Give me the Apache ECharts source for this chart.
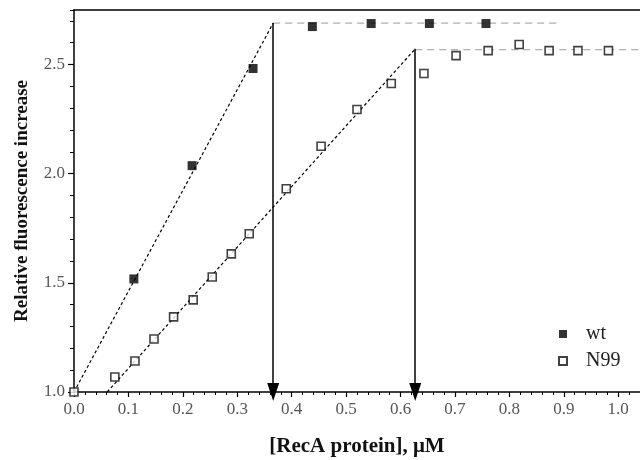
<!DOCTYPE html>
<html>
<head>
<meta charset="utf-8">
<script src="https://cdn.jsdelivr.net/npm/echarts@6/dist/echarts.min.js"></script>
<style>
html, body { margin: 0; padding: 0; background: #fff; }
#main { width: 640px; height: 460px; }
</style>
</head>
<body>
<div id="main"></div>
<script>
// measured points
var wtX = [0.110, 0.217, 0.329, 0.438, 0.546, 0.653, 0.757];
var wtY = [1.518, 2.037, 2.482, 2.674, 2.688, 2.688, 2.688];
var n99X = [0.000, 0.075, 0.112, 0.147, 0.183, 0.219, 0.254, 0.289, 0.322, 0.390,
	0.454, 0.520, 0.583, 0.643, 0.702, 0.761, 0.818, 0.873, 0.926, 0.982];
var n99Y = [1.000, 1.069, 1.142, 1.243, 1.344, 1.422, 1.527, 1.633, 1.725, 1.931,
	2.126, 2.294, 2.413, 2.459, 2.541, 2.564, 2.592, 2.564, 2.564, 2.564];

// fitted lines (start / end)
var wtFitX = [0.0, 0.366];
var wtFitY = [1.0, 2.69];
var wtPlateauX = [0.366, 0.886];
var wtPlateauY = [2.69, 2.69];
var n99FitX = [0.061, 0.627];
var n99FitY = [1.0, 2.572];
var n99PlateauX = [0.627, 1.04];
var n99PlateauY = [2.568, 2.568];

// equivalence points (arrows)
var arrowX = [0.366, 0.627];
var arrowTop = [2.69, 2.572];

var xMin = 0, xMax = 1.04;
var yMin = 1.0, yMax = 2.75;

function pairs(xs, ys) {
	var out = [];
	xs.forEach(function(v, i) {
		out.push([v, ys[i]]);
	});
	return out;
}

var serif = '"Liberation Serif", "DejaVu Serif", serif';
var myChart = echarts.init(document.getElementById('main'));

var fitStyle = { color: '#000', width: 1.2, type: [3, 2.5] };
var plateauStyle = { color: '#9a9a9a', width: 1, type: [7, 5] };

var option = {
	backgroundColor: '#fff',
	animation: false,
	grid: { left: 74, top: 10, right: 0, bottom: 68, outerBoundsMode: 'none', containLabel: false },
	legend: {
		orient: 'vertical',
		left: 553,
		top: 319,
		icon: 'rect',
		itemWidth: 8,
		itemHeight: 8,
		itemGap: 7,
		textStyle: { fontFamily: serif, fontSize: 20, color: '#222', padding: [0, 0, 0, 14] },
		data: ['wt', 'N99']
	},
	xAxis: [{
		// major ticks + labels
		type: 'value', min: xMin, max: xMax, interval: 0.1, position: 'bottom',
		name: '[RecA protein], \u03bcM', nameLocation: 'middle', nameGap: 44,
		nameTextStyle: { fontFamily: serif, fontSize: 21, fontWeight: 'bold', color: '#111' },
		axisLine: { lineStyle: { color: '#000', width: 1.5 } },
		axisTick: { inside: false, length: 5, lineStyle: { color: '#000', width: 1.2 } },
		axisLabel: {
			fontFamily: serif, fontSize: 17, color: '#555', margin: 9, showMaxLabel: false,
			formatter: function(v) { return v.toFixed(1); }
		},
		splitLine: { show: false }
	}, {
		// minor ticks every 0.02
		type: 'value', min: xMin, max: xMax, interval: 0.02, position: 'bottom',
		axisLine: { show: false },
		axisTick: { inside: false, length: 3, lineStyle: { color: '#000', width: 1 } },
		axisLabel: { show: false },
		splitLine: { show: false }
	}, {
		// top frame line
		type: 'value', min: xMin, max: xMax, position: 'top',
		axisLine: { lineStyle: { color: '#000', width: 1.5 } },
		axisTick: { show: false },
		axisLabel: { show: false },
		splitLine: { show: false }
	}],
	yAxis: [{
		type: 'value', min: yMin, max: yMax, interval: 0.5, position: 'left',
		name: 'Relative fluorescence increase', nameLocation: 'middle', nameGap: 42,
		nameTextStyle: { fontFamily: serif, fontSize: 19, fontWeight: 'bold', color: '#111' },
		axisLine: { lineStyle: { color: '#000', width: 1.5 } },
		axisTick: { inside: false, length: 6, lineStyle: { color: '#000', width: 1.2 } },
		axisLabel: {
			fontFamily: serif, fontSize: 17, color: '#555', margin: 9, showMaxLabel: false,
			formatter: function(v) { return v.toFixed(1); }
		},
		splitLine: { show: false }
	}, {
		// minor ticks every 0.1
		type: 'value', min: yMin, max: yMax, interval: 0.1, position: 'left',
		axisLine: { show: false },
		axisTick: { inside: false, length: 4, lineStyle: { color: '#000', width: 1 } },
		axisLabel: { show: false },
		splitLine: { show: false }
	}],
	series: [{
		name: 'wt fit', type: 'line', data: pairs(wtFitX, wtFitY),
		symbol: 'none', lineStyle: fitStyle, z: 2
	}, {
		name: 'N99 fit', type: 'line', data: pairs(n99FitX, n99FitY),
		symbol: 'none', lineStyle: fitStyle, z: 2
	}, {
		name: 'wt plateau', type: 'line', data: pairs(wtPlateauX, wtPlateauY),
		symbol: 'none', lineStyle: plateauStyle, z: 2
	}, {
		name: 'N99 plateau', type: 'line', data: pairs(n99PlateauX, n99PlateauY),
		symbol: 'none', lineStyle: plateauStyle, z: 2,
		// arrows down to the x axis
		markLine: {
			silent: true,
			symbol: ['none', 'triangle'],
			symbolSize: [12, 18],
			label: { show: false },
			lineStyle: { color: '#000', width: 1.5, type: 'solid' },
			data: arrowX.map(function(x, i) {
				return [{ coord: [x, arrowTop[i]] }, { coord: [x, yMin] }];
			})
		}
	}, {
		name: 'wt', type: 'scatter', data: pairs(wtX, wtY),
		symbol: 'rect', symbolSize: 9,
		itemStyle: { color: '#000' }, z: 5
	}, {
		name: 'N99', type: 'scatter', data: pairs(n99X, n99Y),
		symbol: 'rect', symbolSize: 8,
		itemStyle: { color: '#fff', borderColor: '#111', borderWidth: 1.6 }, z: 5
	}]
};

myChart.setOption(option);
</script>
</body>
</html>
